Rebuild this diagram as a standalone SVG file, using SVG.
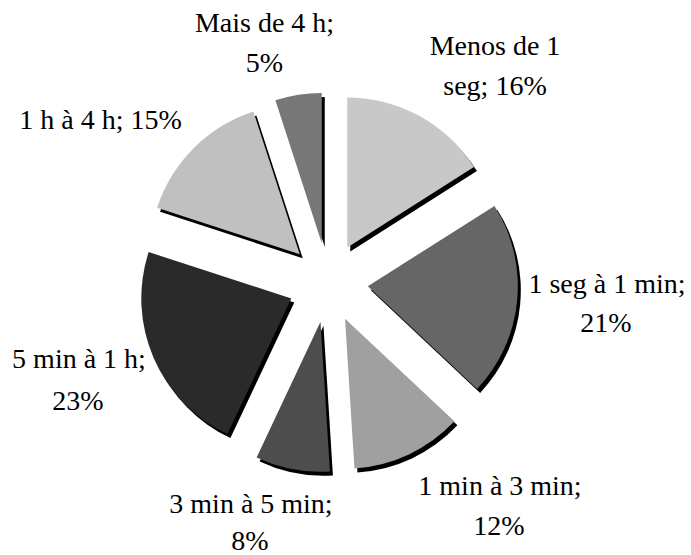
<svg xmlns="http://www.w3.org/2000/svg" width="691" height="555" viewBox="0 0 691 555">
<style>
  .lbl { font-size: 28px; fill: #000; text-anchor: middle; }
  .shadow { fill: #000; }
</style>
<defs>
  <path id="p1" d="M347.27,247.45 L347.27,97.45 A150,150 0 0 1 473.92,167.08 Z"/>
  <path id="p2" d="M367.82,286.26 L494.47,205.89 A150,150 0 0 1 477.17,388.94 Z"/>
  <path id="p3" d="M345.03,318.69 L454.38,421.37 A150,150 0 0 1 354.45,468.39 Z"/>
  <path id="p4" d="M320.50,321.79 L329.92,471.49 A150,150 0 0 1 256.63,457.51 Z"/>
  <path id="p5" d="M291.29,298.39 L227.42,434.11 A150,150 0 0 1 148.63,252.04 Z"/>
  <path id="p6" d="M299.72,254.22 L157.06,207.87 A150,150 0 0 1 253.37,111.56 Z"/>
  <path id="p7" d="M321.74,242.99 L275.39,100.33 A150,150 0 0 1 321.74,92.99 Z"/>
</defs>
<g id="connectors"></g>
<g font-family="Liberation Serif, Times New Roman, DejaVu Serif, serif">
<g id="slice-menos-de-1-seg">
  <use href="#p1" class="shadow" transform="translate(3,4)"/>
  <use href="#p1" fill="#c8c8c8"/>
  <text class="lbl" x="495" y="55">Menos de 1</text>
  <text class="lbl" x="495" y="95">seg; 16%</text>
</g>
<g id="slice-1-seg-a-1-min">
  <use href="#p2" class="shadow" transform="translate(3,4)"/>
  <use href="#p2" fill="#666666"/>
  <text class="lbl" x="607" y="293">1 seg à 1 min;</text>
  <text class="lbl" x="606" y="332">21%</text>
</g>
<g id="slice-1-min-a-3-min">
  <use href="#p3" class="shadow" transform="translate(3,4)"/>
  <use href="#p3" fill="#a0a0a0"/>
  <text class="lbl" x="500" y="495">1 min à 3 min;</text>
  <text class="lbl" x="499" y="535">12%</text>
</g>
<g id="slice-3-min-a-5-min">
  <use href="#p4" class="shadow" transform="translate(3,4)"/>
  <use href="#p4" fill="#4d4d4d"/>
  <text class="lbl" x="251" y="513">3 min à 5 min;</text>
  <text class="lbl" x="250" y="550">8%</text>
</g>
<g id="slice-5-min-a-1-h">
  <use href="#p5" class="shadow" transform="translate(3,4)"/>
  <use href="#p5" fill="#2a2a2a"/>
  <text class="lbl" x="79" y="368">5 min à 1 h;</text>
  <text class="lbl" x="78" y="410">23%</text>
</g>
<g id="slice-1-h-a-4-h">
  <use href="#p6" class="shadow" transform="translate(3,4)"/>
  <use href="#p6" fill="#c0c0c0"/>
  <text class="lbl" x="100.5" y="129">1 h à 4 h; 15%</text>
</g>
<g id="slice-mais-de-4-h">
  <use href="#p7" class="shadow" transform="translate(3,4)"/>
  <use href="#p7" fill="#777777"/>
  <text class="lbl" x="264.5" y="32">Mais de 4 h;</text>
  <text class="lbl" x="264.5" y="72">5%</text>
</g>
</g>
</svg>
